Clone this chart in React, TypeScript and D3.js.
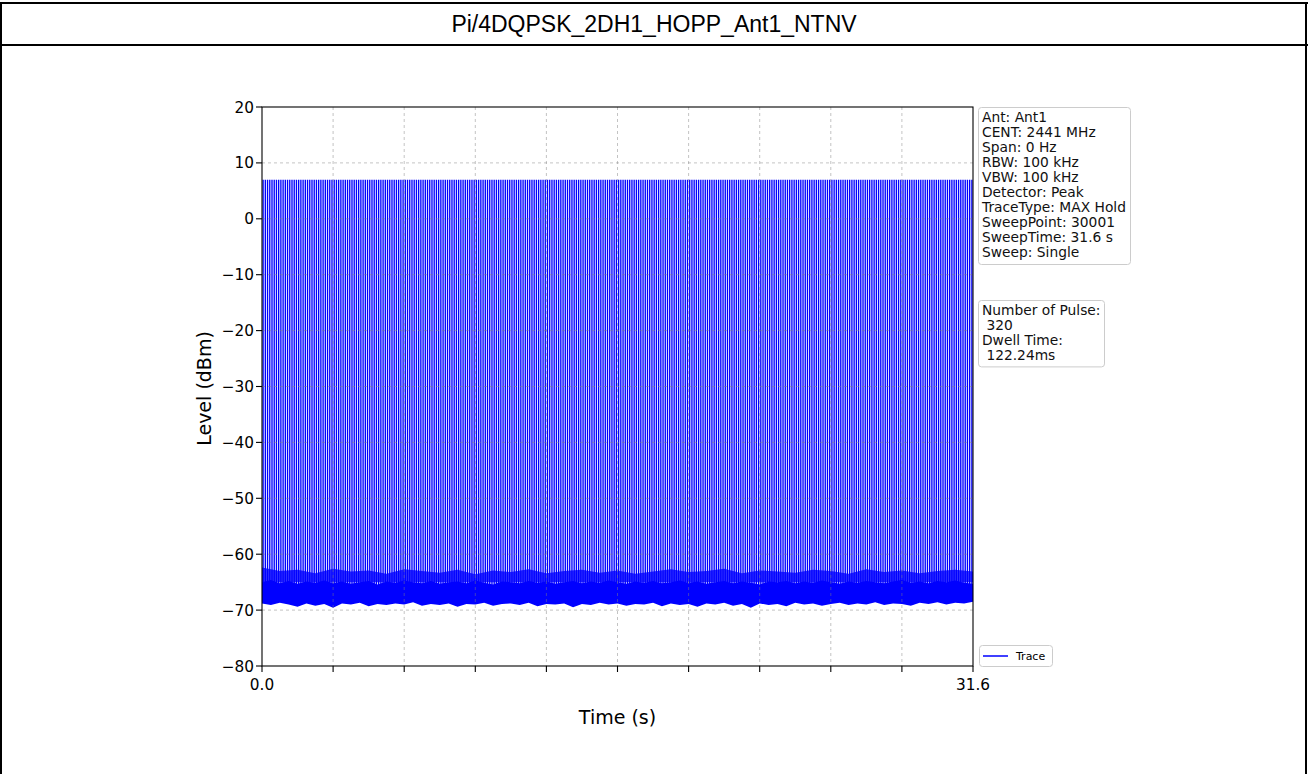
import { useRef, useEffect } from 'react';
import * as d3 from 'd3';

const WIDTH = 1308;
const HEIGHT = 774;

const TITLE = 'Pi/4DQPSK_2DH1_HOPP_Ant1_NTNV';
const SWEEP_TIME = 31.6;
const PULSE_COUNT = 320;
const PULSE_PEAK = 7;

const Y_TICKS = [-80, -70, -60, -50, -40, -30, -20, -10, 0, 10, 20];
const X_TICKS = [0, 3.16, 6.32, 9.48, 12.64, 15.8, 18.96, 22.12, 25.28, 28.44, 31.6];
const X_TICK_LABELS = ['0.0', '', '', '', '', '', '', '', '', '', '31.6'];

// noise floor envelope (dBm), sampled evenly across the sweep
const NOISE_LOW = [
  -68.8, -69.1, -68.7, -69.0, -69.4, -68.8, -69.2, -68.9, -69.6, -68.8,
  -69.0, -68.7, -69.3, -68.9, -69.1, -68.8, -69.0, -68.6, -69.2, -68.9,
  -69.1, -68.8, -69.4, -68.9, -69.0, -68.7, -69.2, -68.9, -68.8, -69.1,
  -68.7, -69.3, -68.9, -69.0, -68.8, -69.5, -68.9, -69.1, -68.7, -69.0,
  -68.8, -69.2, -68.9, -69.0, -68.7, -69.3, -68.8, -69.1, -68.9, -69.4,
  -68.8, -69.0, -68.7, -69.2, -68.9, -69.6, -68.8, -69.1, -68.9, -69.3,
  -68.7, -69.0, -68.8, -69.2, -68.9, -68.7, -69.1, -68.8, -69.0, -68.6,
  -69.1, -68.8, -68.9, -69.2, -68.7, -68.9, -68.6, -69.0, -68.7, -68.8,
  -68.5,
];
const NOISE_HIGH = [
  -65.0, -64.6, -65.2, -64.8, -65.3, -64.9, -65.1, -64.7, -65.2, -64.9,
  -65.3, -65.0, -64.8, -65.4, -64.9, -65.1, -64.7, -65.0, -65.2, -64.8,
  -65.3, -65.0, -64.9, -65.2, -64.7, -65.1, -65.4, -64.9, -65.0, -65.2,
  -64.8, -65.1, -64.9, -65.3, -65.0, -64.8, -65.2, -64.9, -65.1, -64.7,
  -65.0, -65.3, -64.9, -65.1, -64.8, -65.2, -65.0, -64.7, -65.1, -64.9,
  -65.3, -65.0, -64.8, -65.2, -64.9, -65.1, -65.4, -64.9, -65.0, -64.8,
  -65.2, -64.9, -65.1, -64.7, -65.0, -65.3, -64.9, -65.1, -64.8, -65.0,
  -65.2, -64.9, -64.6, -65.1, -64.9, -65.2, -64.8, -65.0, -64.7, -65.1,
  -65.3,
];
// sparse spikes of the noise floor above the dense band
const NOISE_PEAK = [
  -62.4, -63.0, -62.8, -63.4, -62.6, -63.1, -62.9, -63.5, -62.7, -63.0,
  -63.3, -62.8, -63.6, -62.9, -63.2, -62.7, -63.4, -63.0, -62.8, -63.3,
  -62.9, -63.5, -63.1, -62.7, -63.2, -63.0, -62.6, -63.4, -62.9, -63.1,
  -63.3, -62.8, -63.0, -63.5, -62.7, -63.2, -62.9, -63.4, -63.0, -62.8,
  -63.1,
];

const INFO_LINES = [
  'Ant: Ant1',
  'CENT: 2441 MHz',
  'Span: 0 Hz',
  'RBW: 100 kHz',
  'VBW: 100 kHz',
  'Detector: Peak',
  'TraceType: MAX Hold',
  'SweepPoint: 30001',
  'SweepTime: 31.6 s',
  'Sweep: Single',
];
const PULSE_LINES = ['Number of Pulse:', ' 320', 'Dwell Time:', ' 122.24ms'];

const PLOT = { left: 262, right: 973, top: 107, bottom: 666 };
const FONT = 'DejaVu Sans, sans-serif';

export default function App() {
  const svgRef = useRef<SVGSVGElement>(null);

  useEffect(() => {
    const svg = d3.select(svgRef.current);
    svg.selectAll('*').remove();

    const x = d3.scaleLinear().domain([0, SWEEP_TIME]).range([PLOT.left, PLOT.right]);
    const y = d3.scaleLinear().domain([-80, 20]).range([PLOT.bottom, PLOT.top]);

    svg.append('rect').attr('width', WIDTH).attr('height', HEIGHT).attr('fill', '#fff');

    // page frame + title row
    const frame = svg.append('g').attr('stroke', '#000').attr('stroke-width', 2);
    frame.append('line').attr('x1', 0).attr('x2', WIDTH).attr('y1', 3).attr('y2', 3);
    frame.append('line').attr('x1', 0).attr('x2', WIDTH).attr('y1', 45).attr('y2', 45);
    frame.append('line').attr('x1', 1).attr('x2', 1).attr('y1', 2).attr('y2', HEIGHT);
    frame.append('line').attr('x1', 1306).attr('x2', 1306).attr('y1', 2).attr('y2', HEIGHT);

    svg
      .append('text')
      .attr('x', WIDTH / 2)
      .attr('y', 32)
      .attr('text-anchor', 'middle')
      .attr('font-family', 'Liberation Sans, Arial, sans-serif')
      .attr('font-size', 23)
      .text(TITLE);

    // noise floor: sparse spikes then dense band
    const spikeIdx = d3.scaleLinear().domain([0, NOISE_PEAK.length - 1]).range([0, SWEEP_TIME]);
    const spikes = d3
      .area<number>()
      .x((_, i) => x(spikeIdx(i)))
      .y0(y(-65))
      .y1((d) => y(d));
    svg
      .append('path')
      .datum(NOISE_PEAK)
      .attr('d', spikes)
      .attr('fill', '#0000ff')
      .attr('fill-opacity', 0.78);

    const idx = d3.scaleLinear().domain([0, NOISE_LOW.length - 1]).range([0, SWEEP_TIME]);
    const band = d3
      .area<number>()
      .x((_, i) => x(idx(i)))
      .y0((d) => y(d))
      .y1((_, i) => y(NOISE_HIGH[i]));
    svg.append('path').datum(NOISE_LOW).attr('d', band).attr('fill', '#0000ff');

    // hopping pulses
    const pulses = svg.append('g').attr('stroke', '#0000ff').attr('stroke-width', 1.35);
    const pulseTimes = d3.range(PULSE_COUNT).map((i) => ((i + 0.5) * SWEEP_TIME) / PULSE_COUNT);
    pulseTimes.forEach((t) => {
      pulses
        .append('line')
        .attr('x1', x(t))
        .attr('x2', x(t))
        .attr('y1', y(-66.5))
        .attr('y2', y(PULSE_PEAK));
    });

    // grid
    const grid = svg
      .append('g')
      .attr('stroke', '#808080')
      .attr('stroke-opacity', 0.6)
      .attr('stroke-width', 0.8)
      .attr('stroke-dasharray', '3,3');
    X_TICKS.slice(1, -1).forEach((t) => {
      grid.append('line').attr('x1', x(t)).attr('x2', x(t)).attr('y1', PLOT.top).attr('y2', PLOT.bottom);
    });
    Y_TICKS.slice(1, -1).forEach((v) => {
      grid.append('line').attr('x1', PLOT.left).attr('x2', PLOT.right).attr('y1', y(v)).attr('y2', y(v));
    });

    // spines
    svg
      .append('rect')
      .attr('x', PLOT.left)
      .attr('y', PLOT.top)
      .attr('width', PLOT.right - PLOT.left)
      .attr('height', PLOT.bottom - PLOT.top)
      .attr('fill', 'none')
      .attr('stroke', '#000')
      .attr('stroke-width', 1.1);

    // ticks
    const ticks = svg.append('g').attr('stroke', '#000').attr('stroke-width', 1.1);
    Y_TICKS.forEach((v) => {
      ticks.append('line').attr('x1', PLOT.left - 6).attr('x2', PLOT.left).attr('y1', y(v)).attr('y2', y(v));
      svg
        .append('text')
        .attr('x', PLOT.left - 8)
        .attr('y', y(v) + 5.5)
        .attr('text-anchor', 'end')
        .attr('font-family', FONT)
        .attr('font-size', 15.3)
        .attr('fill', '#000')
        .text(d3.format('d')(v).replace('-', '\u2212'));
    });
    X_TICKS.forEach((t, i) => {
      ticks.append('line').attr('x1', x(t)).attr('x2', x(t)).attr('y1', PLOT.bottom).attr('y2', PLOT.bottom + 6);
      if (X_TICK_LABELS[i]) {
        svg
          .append('text')
          .attr('x', x(t))
          .attr('y', PLOT.bottom + 24)
          .attr('text-anchor', 'middle')
          .attr('font-family', FONT)
          .attr('font-size', 15.3)
          .attr('fill', '#000')
          .text(X_TICK_LABELS[i]);
      }
    });

    // axis labels
    svg
      .append('text')
      .attr('x', (PLOT.left + PLOT.right) / 2)
      .attr('y', 724)
      .attr('text-anchor', 'middle')
      .attr('font-family', FONT)
      .attr('font-size', 19)
      .text('Time (s)');
    svg
      .append('text')
      .attr('transform', `translate(211,${(PLOT.top + PLOT.bottom) / 2 + 2}) rotate(-90)`)
      .attr('text-anchor', 'middle')
      .attr('font-family', FONT)
      .attr('font-size', 19)
      .text('Level (dBm)');

    // info boxes
    const drawBox = (bx: number, by: number, w: number, lines: string[]) => {
      const lh = 15.1;
      svg
        .append('rect')
        .attr('x', bx)
        .attr('y', by)
        .attr('width', w)
        .attr('height', lines.length * lh + 6)
        .attr('rx', 3)
        .attr('fill', '#fff')
        .attr('stroke', '#ccc')
        .attr('stroke-width', 1);
      lines.forEach((s, i) => {
        svg
          .append('text')
          .attr('x', bx + 3.5)
          .attr('y', by + 14 + i * lh)
          .attr('font-family', FONT)
          .attr('font-size', 13.8)
          .attr('fill', '#111')
          .style('white-space', 'pre')
          .text(s);
      });
    };
    drawBox(978.5, 107.5, 152, INFO_LINES);
    drawBox(978.5, 300.5, 126, PULSE_LINES);

    // legend
    svg
      .append('rect')
      .attr('x', 979.5)
      .attr('y', 645.5)
      .attr('width', 73)
      .attr('height', 21)
      .attr('rx', 3)
      .attr('fill', '#fff')
      .attr('stroke', '#ccc');
    svg
      .append('line')
      .attr('x1', 983)
      .attr('x2', 1008)
      .attr('y1', 656)
      .attr('y2', 656)
      .attr('stroke', '#0000ff')
      .attr('stroke-width', 1.5);
    svg
      .append('text')
      .attr('x', 1016)
      .attr('y', 660)
      .attr('font-family', FONT)
      .attr('font-size', 11)
      .text('Trace');
  }, []);

  return (
    <svg
      ref={svgRef}
      width={WIDTH}
      height={HEIGHT}
      style={{ position: 'absolute', left: 0, top: 0 }}
    />
  );
}
